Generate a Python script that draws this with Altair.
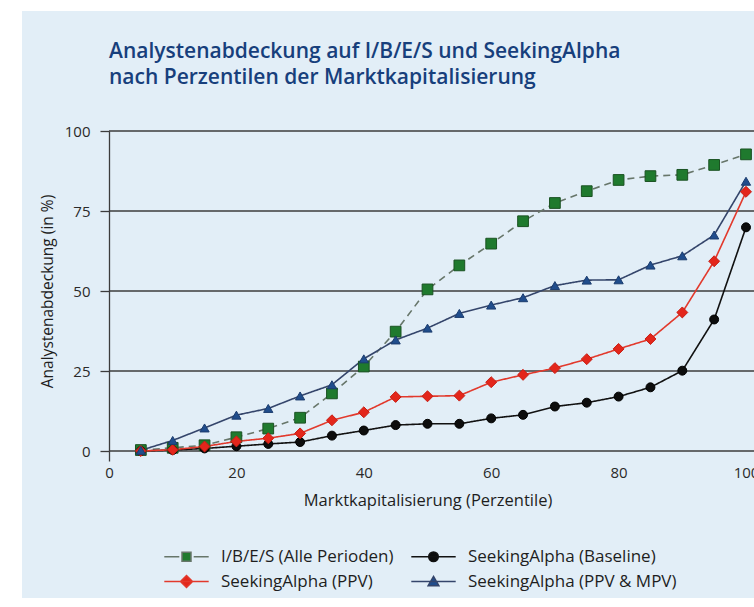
import altair as alt
import pandas as pd

# ---------------- data ----------------
percentiles = [5, 10, 15, 20, 25, 30, 35, 40, 45, 50, 55, 60, 65, 70, 75, 80, 85, 90, 95, 100]
ibes = [0.3, 1.0, 1.8, 4.3, 7.0, 10.4, 18.0, 26.4, 37.3, 50.5, 58.0, 64.8, 71.8, 77.5, 81.2, 84.7, 85.9, 86.3, 89.4, 92.7]
baseline = [0.0, 0.3, 0.8, 1.5, 2.2, 2.8, 4.8, 6.4, 8.1, 8.5, 8.5, 10.2, 11.3, 13.9, 15.1, 17.0, 19.9, 25.1, 41.1, 69.9]
ppv = [0.0, 0.4, 1.4, 3.0, 4.0, 5.5, 9.6, 12.1, 16.9, 17.1, 17.3, 21.5, 23.8, 25.9, 28.7, 31.9, 35.0, 43.3, 59.3, 81.0]
ppv_mpv = [0.2, 3.3, 7.2, 11.2, 13.3, 17.2, 20.7, 28.8, 34.7, 38.4, 43.0, 45.6, 47.9, 51.7, 53.4, 53.5, 58.1, 61.0, 67.5, 84.3]

series_names = [
    "I/B/E/S (Alle Perioden)",
    "SeekingAlpha (Baseline)",
    "SeekingAlpha (PPV)",
    "SeekingAlpha (PPV & MPV)",
]
y_ticks = [0, 25, 50, 75, 100]
x_ticks = [0, 20, 40, 60, 80, 100]

title_lines = [
    "Analystenabdeckung auf I/B/E/S und SeekingAlpha",
    "nach Perzentilen der Marktkapitalisierung",
]
x_title = "Marktkapitalisierung (Perzentile)"
y_title = "Analystenabdeckung (in %)"

# ---------------- styles ----------------
FONT = "Open Sans"
BG = "#e2eef7"
TEXT = "#2a2a2a"
GRID = "#3c3c3c"
W, H = 637, 320

line_colors = ["#67766a", "#111111", "#e2392c", "#34456b"]
fill_colors = ["#1f7a2e", "#0d0d0d", "#e3261b", "#204d8c"]
edge_colors = ["#1a5222", "#000000", "#c81e14", "#1b3c6e"]
shapes = ["square", "circle", "diamond", "triangle-up"]
sizes = [115, 80, 120, 85]
dashes = [[7, 5], [1, 0], [1, 0], [1, 0]]

legend_paths = [
    "M-3.7,0H-1.2M1.2,0H3.7M-0.75,-0.75H0.75V0.75H-0.75Z",
    "M-3.7,0H3.7M-0.8,0A0.8,0.8 0 1,0 0.8,0A0.8,0.8 0 1,0 -0.8,0Z",
    "M-3.7,0H3.7M0,-1L1,0L0,1L-1,0Z",
    "M-3.7,0H3.7M0,-0.85L0.9,0.7L-0.9,0.7Z",
]

values = [ibes, baseline, ppv, ppv_mpv]
rows = []
for name, vals in zip(series_names, values):
    for p, v in zip(percentiles, vals):
        rows.append({"p": p, "v": v, "series": name})
df = pd.DataFrame(rows)

x_enc = alt.X("p:Q", scale=alt.Scale(domain=[0, 100], nice=False),
              axis=alt.Axis(values=x_ticks, title=x_title, grid=False, domain=False,
                            tickSize=10, tickColor=GRID, tickWidth=1.3, labelFlush=False,
                            tickOpacity={"condition": {"test": "datum.value === 0", "value": 1}, "value": 0},
                            labelPadding=4, labelFontSize=15, labelColor=TEXT, labelFont=FONT,
                            titleFont=FONT, titleFontSize=16.5, titleFontWeight="normal",
                            titleColor="#1e1e1e", titlePadding=12, zindex=1))
y_enc = alt.Y("v:Q", scale=alt.Scale(domain=[0, 100], nice=False),
              axis=alt.Axis(values=y_ticks, title=y_title, grid=False, domain=True,
                            domainColor=GRID, domainWidth=1.3, labelFlush=False,
                            tickSize=9, tickColor=GRID, tickWidth=1.3,
                            labelPadding=10, labelFontSize=15, labelColor=TEXT, labelFont=FONT,
                            titleFont=FONT, titleFontSize=15.5, titleFontWeight="normal",
                            titleColor="#1e1e1e", titlePadding=9, zindex=1))

# panel background
panel = alt.Chart(pd.DataFrame({"k": [0]})).mark_rect(color=BG).encode(
    x=alt.value(22 - 109), x2=alt.value(W + 20),
    y=alt.value(11 - 131), y2=alt.value(598 - 131),
)

# horizontal grid lines
grid = alt.Chart(pd.DataFrame({"t": y_ticks})).mark_rule(color=GRID, strokeWidth=1.3).encode(
    y=alt.Y("t:Q", scale=alt.Scale(domain=[0, 100], nice=False)),
    x=alt.value(0), x2=alt.value(W + 20),
)

layers = [panel, grid]
base = alt.Chart(df)
for i, name in enumerate(series_names):
    sub = base.transform_filter(alt.datum.series == name)
    layers.append(
        sub.mark_line(color=line_colors[i], strokeWidth=1.6, strokeDash=dashes[i]).encode(x=x_enc, y=y_enc)
    )
for i, name in enumerate(series_names):
    sub = base.transform_filter(alt.datum.series == name)
    layers.append(
        sub.mark_point(shape=shapes[i], size=sizes[i], filled=True, opacity=1,
                       fill=fill_colors[i], stroke=edge_colors[i], strokeWidth=1).encode(x=x_enc, y=y_enc)
    )

legend = alt.Legend(
    title=None, orient="none", legendX=69, legendY=417, columns=2, direction="horizontal",
    symbolSize=144, symbolStrokeWidth=1.5, symbolOpacity=1,
    labelFont=FONT, labelFontSize=17, labelColor="#1e1e1e", labelOffset=26, labelLimit=400,
    columnPadding=14, rowPadding=7, padding=0,
)
legend_layer = base.transform_filter("datum.v < -1000").mark_point(filled=True).encode(
    x=x_enc, y=y_enc,
    shape=alt.Shape("series:N", scale=alt.Scale(domain=series_names, range=legend_paths), legend=legend),
    fill=alt.Fill("series:N", scale=alt.Scale(domain=series_names, range=fill_colors), legend=legend),
    stroke=alt.Stroke("series:N", scale=alt.Scale(domain=series_names, range=line_colors), legend=legend),
)
layers.append(legend_layer)

chart = alt.layer(*layers).properties(
    width=W, height=H,
    title=alt.TitleParams(title_lines, anchor="start", frame="group", font=FONT, fontSize=21,
                          fontWeight=600, color="#173f7c", offset=-77, lineHeight=26),
    autosize=alt.AutoSizeParams(type="none"),
    padding={"left": 109, "top": 131, "right": 8, "bottom": 156},
    background="white",
).configure_view(stroke=None)

chart.save("out.html", embed_options={"renderer": "svg", "actions": False})
